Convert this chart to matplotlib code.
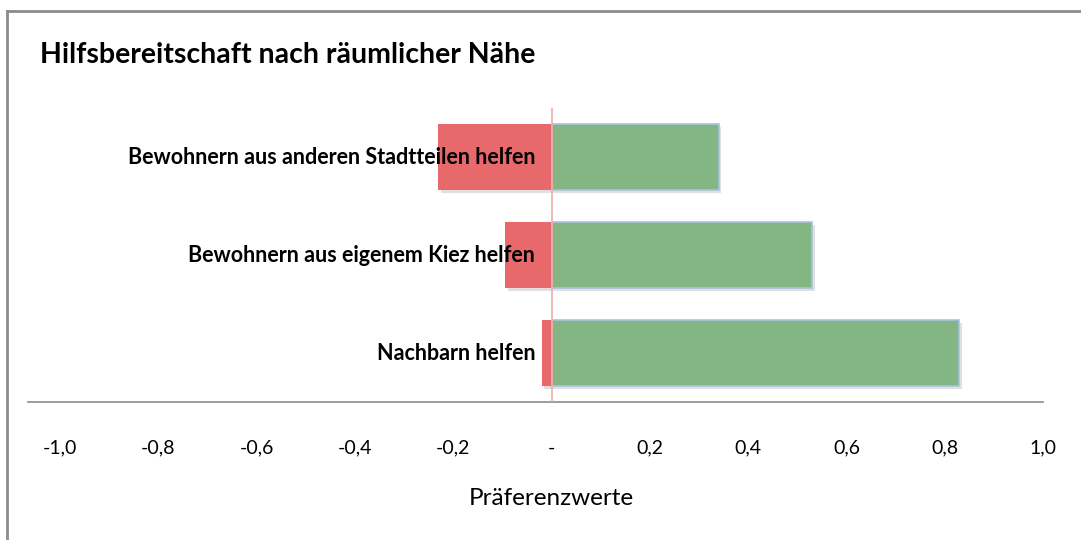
import matplotlib.pyplot as plt
import matplotlib.patheffects as pe
import numpy as np

# Daten
categories = ['Bewohnern aus anderen Stadtteilen helfen',
              'Bewohnern aus eigenem Kiez helfen',
              'Nachbarn helfen']
negative = [-0.23, -0.095, -0.02]
positive = [0.34, 0.53, 0.83]
tick_values = [-1.0, -0.8, -0.6, -0.4, -0.2, 0.0, 0.2, 0.4, 0.6, 0.8, 1.0]
tick_labels = ['-1,0', '-0,8', '-0,6', '-0,4', '-0,2', '-', '0,2', '0,4', '0,6', '0,8', '1,0']

plt.rcParams['font.family'] = ['Lato', 'DejaVu Sans']

fig = plt.figure(figsize=(10.81, 5.40), dpi=100)
ax = fig.add_axes([60 / 1081, 1 - 402 / 540, (1043 - 60) / 1081, (402 - 108) / 540])

y = np.arange(len(categories))
shadow = [pe.SimplePatchShadow(offset=(2, -2), alpha=0.15), pe.Normal()]

ax.barh(y, negative, height=0.67, color='#E8696B', zorder=2, path_effects=shadow)
ax.barh(y, positive, height=0.67, color='#84B683', edgecolor='#A9C2E2',
        linewidth=1.2, zorder=2, path_effects=shadow)
ax.axvline(0, color='#F2AAAA', linewidth=1.2, zorder=3)

for yi, label in zip(y, categories):
    ax.text(-0.033, yi, label, ha='right', va='center', fontsize=15.5,
            fontweight='bold', color='black', zorder=5)

ax.set_xlim(-1, 1)
ax.set_ylim(len(categories) - 0.5, -0.5)
ax.set_yticks([])
ax.set_xticks(tick_values)
ax.set_xticklabels(tick_labels, fontsize=14)
ax.tick_params(axis='x', length=0, pad=27)
ax.set_xlabel('Präferenzwerte', fontsize=17.5, labelpad=23)

for s in ['top', 'left', 'right']:
    ax.spines[s].set_visible(False)
ax.spines['bottom'].set_color('#8C8C8C')
ax.spines['bottom'].set_linewidth(1.2)
ax.spines['bottom'].set_bounds(-1.065, 1.0)

fig.text(40 / 1081, 1 - 55 / 540, 'Hilfsbereitschaft nach räumlicher Nähe',
         fontsize=20.5, fontweight='bold', ha='left', va='center')

# Rahmen oben und links
fig.add_artist(plt.Line2D([7 / 1081, 1], [1 - 11 / 540, 1 - 11 / 540],
                          color='#8C8C8C', linewidth=2))
fig.add_artist(plt.Line2D([7 / 1081, 7 / 1081], [0, 1 - 11 / 540],
                          color='#8C8C8C', linewidth=2))

fig.savefig('out.png', dpi=100)
